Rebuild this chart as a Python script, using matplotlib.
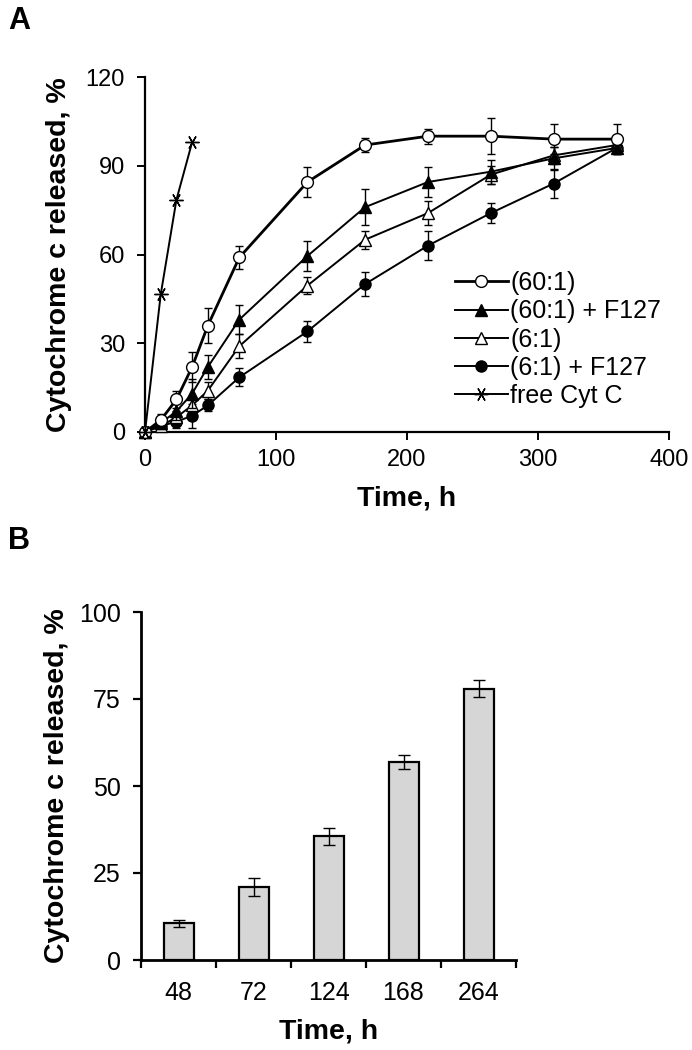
import matplotlib
matplotlib.use("Agg")
import matplotlib.pyplot as plt
import numpy as np

plt.rcParams['font.family'] = ['Liberation Sans', 'DejaVu Sans']

# ---------------- Panel A data ----------------
time_h = [0, 12, 24, 36, 48, 72, 124, 168, 216, 264, 312, 360]
r60 = [0, 4, 11, 22, 36, 59, 84.5, 97, 100, 100, 99, 99]
r60_err = [0, 2, 3, 5, 6, 4, 5, 2.5, 2.5, 6, 5, 5]
r60f = [0, 3, 7, 13, 22, 38, 59.5, 76, 84.5, 88, 92.5, 96]
r60f_err = [0, 2, 3, 5, 4, 5, 5, 6, 5, 4, 4, 2]
r6 = [0, 2, 5, 9, 14, 29, 49.5, 65, 74, 87, 93.5, 97]
r6_err = [0, 1.5, 2, 3, 3, 4, 3, 3, 4, 3, 3, 2]
r6f = [0, 2, 3.5, 5.5, 9, 18.5, 34, 50, 63, 74, 84, 96]
r6f_err = [0, 1.5, 2, 4, 2, 3, 3.5, 4, 5, 3.5, 5, 2]
free_t = [0, 12, 24, 36]
free_c = [0, 46.5, 78.5, 98]
labels_A = ['(60:1)', '(60:1) + F127', '(6:1)', '(6:1) + F127', 'free Cyt C']

# ---------------- Panel B data ----------------
bar_times = ['48', '72', '124', '168', '264']
bar_vals = [10.5, 21, 35.5, 57, 78]
bar_err = [1, 2.5, 2.5, 2, 2.5]

W, H = 692, 1050
fig = plt.figure(figsize=(W / 100, H / 100), dpi=100)

# Panel A axes: x 145..669 px, y 77..432 px
axA = fig.add_axes([145 / W, 1 - 432 / H, 524 / W, 355 / H])
# Panel B axes: x 141..516 px, y 612..960 px
axB = fig.add_axes([141 / W, 1 - 960 / H, 375 / W, 348 / H])

ms = 8.5
common = dict(color='black', ecolor='black', elinewidth=1.0, capsize=3.2,
              capthick=1.0, markersize=ms, markeredgewidth=1.0, clip_on=False)
h1 = axA.errorbar(time_h, r60, yerr=r60_err, marker='o', mfc='white', lw=2.0,
                  zorder=6, **common)
h2 = axA.errorbar(time_h, r60f, yerr=r60f_err, marker='^', mfc='black', lw=1.4,
                  zorder=5, **common)
h3 = axA.errorbar(time_h, r6, yerr=r6_err, marker='^', mfc='white', lw=1.4,
                  zorder=4, **common)
h4 = axA.errorbar(time_h, r6f, yerr=r6f_err, marker='o', mfc='black', lw=1.4,
                  zorder=3, markersize=8, markeredgewidth=1.0, color='black',
                  ecolor='black', elinewidth=1.0, capsize=3.2, capthick=1.0,
                  clip_on=False)
h5, = axA.plot(free_t, free_c, marker=(6, 2, 30), color='black', lw=1.4,
               markersize=10, markeredgewidth=1.0, zorder=7, clip_on=False)

axA.set_xlim(0, 400)
axA.set_ylim(0, 120)
axA.set_xticks([0, 100, 200, 300, 400])
axA.set_yticks([0, 30, 60, 90, 120])
for s in ['top', 'right']:
    axA.spines[s].set_visible(False)
for s in ['left', 'bottom']:
    axA.spines[s].set_linewidth(1.6)
axA.tick_params(axis='both', direction='out', length=5.5, width=1.4,
                labelsize=17)
axA.tick_params(axis='x', pad=7)
axA.tick_params(axis='y', pad=9)
axA.set_xlabel('Time, h', fontsize=20.5, fontweight='bold')
axA.set_ylabel('Cytochrome c released, %', fontsize=20.5, fontweight='bold')
axA.xaxis.set_label_coords(0.5, -0.152)
axA.yaxis.set_label_coords(-0.139, 0.5)

leg = axA.legend([h1[0], h2[0], h3[0], h4[0], h5], labels_A, loc='upper left',
                 bbox_to_anchor=((455 - 145) / 524, (432 - 271) / 355),
                 frameon=False, fontsize=18, handlelength=2.1,
                 handletextpad=0.1, labelspacing=0.17, borderpad=0,
                 borderaxespad=0)

# ---------------- Panel B ----------------
xpos = np.arange(len(bar_times))
axB.bar(xpos, bar_vals, width=0.4, color='#d6d6d6', edgecolor='black',
        linewidth=1.6, zorder=2)
axB.errorbar(xpos, bar_vals, yerr=bar_err, fmt='none', ecolor='black',
             elinewidth=1.0, capsize=4, capthick=1.0, zorder=3)
axB.set_xlim(-0.5, len(bar_times) - 0.5)
axB.set_ylim(0, 100)
axB.set_yticks([0, 25, 50, 75, 100])
axB.set_xticks(np.arange(len(bar_times) + 1) - 0.5)
axB.set_xticklabels([])
axB.set_xticks(xpos, minor=True)
axB.set_xticklabels(bar_times, minor=True)
for s in ['top', 'right']:
    axB.spines[s].set_visible(False)
for s in ['left', 'bottom']:
    axB.spines[s].set_linewidth(2.0)
axB.tick_params(axis='both', which='major', direction='out', length=5.5,
                width=1.6, labelsize=18)
axB.tick_params(axis='y', pad=9)
axB.tick_params(axis='x', which='minor', length=0, labelsize=18, pad=15)
axB.set_xlabel('Time, h', fontsize=20.5, fontweight='bold')
axB.set_ylabel('Cytochrome c released, %', fontsize=20.5, fontweight='bold')
axB.xaxis.set_label_coords(0.5, -0.168)
axB.yaxis.set_label_coords(-0.189, 0.5)

# Panel letters
fig.text(8 / W, 1 - 6 / H, 'A', fontsize=22, fontweight='bold', va='top', ha='left')
fig.text(8 / W, 1 - 526 / H, 'B', fontsize=22, fontweight='bold', va='top', ha='left')

fig.savefig('out.png', dpi=100)
